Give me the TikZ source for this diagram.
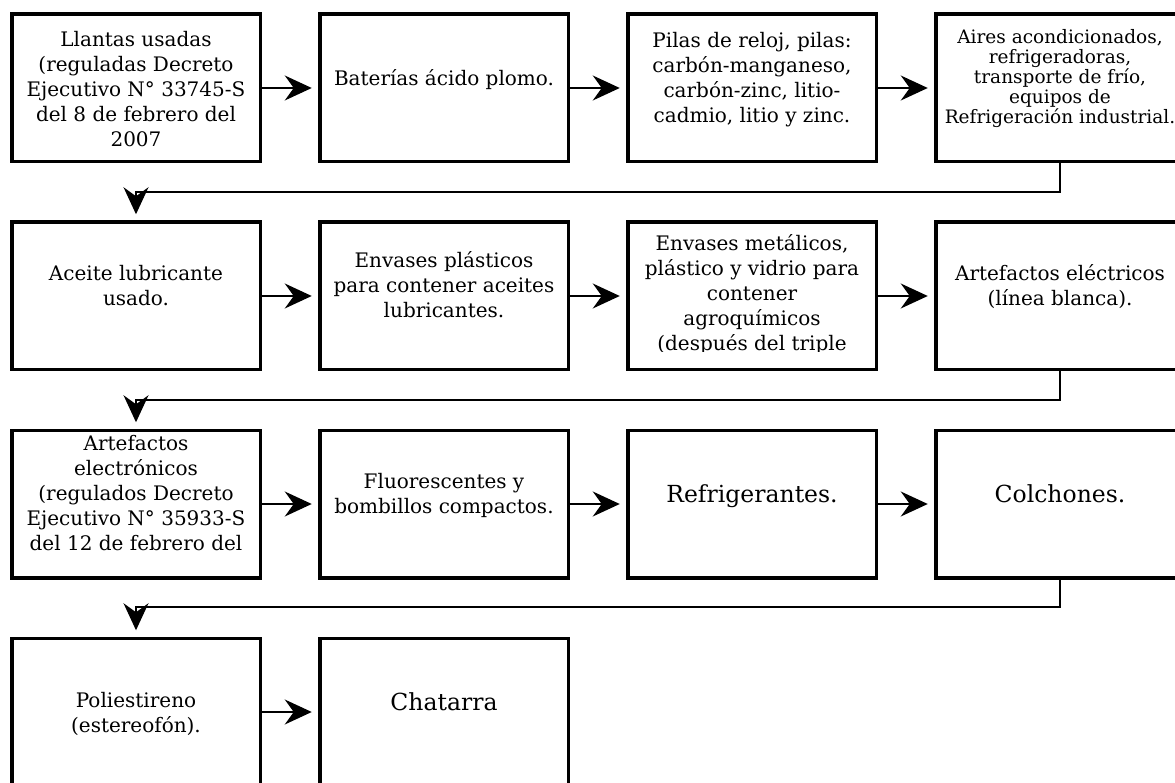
\documentclass[tikz,border=0pt]{standalone}
\usepackage{fontspec}
\setmainfont{DejaVu Serif}
\usetikzlibrary{arrows.meta}
\begin{document}
\begin{tikzpicture}[x=1pt,y=-1pt,
  box/.style={draw=black, fill=white, line width=3.5pt, minimum width=248.5pt, minimum height=147.5pt, inner sep=0pt, outer sep=0pt},
  txt/.style={align=center, inner sep=0pt, anchor=base, font=\fontsize{20}{25}\selectfont},
  smalltxt/.style={font=\fontsize{18.5}{20}\selectfont},
  bigtxt/.style={font=\fontsize{23.5}{28}\selectfont},
  conn/.style={draw=black, line width=1.3pt, -{Stealth[length=27pt,width=25pt,inset=9pt]}, shorten >=8pt},
]
\useasboundingbox[fill=white] (0,0) rectangle (1175,783);
% boxes
\node[box] (b1) at (136,88) {};
\node[box] (b2) at (444,88) {};
\node[box] (b3) at (752,88) {};
\node[box] (b4) at (1060,88) {};
\node[box] (b5) at (136,296) {};
\node[box] (b6) at (444,296) {};
\node[box] (b7) at (752,296) {};
\node[box] (b8) at (1060,296) {};
\node[box] (b9) at (136,504) {};
\node[box] (b10) at (444,504) {};
\node[box] (b11) at (752,504) {};
\node[box] (b12) at (1060,504) {};
\node[box] (b13) at (136,712) {};
\node[box] (b14) at (444,712) {};
% texts (anchored at the baseline of their last line)
\node[txt] (t1) at (136,147) {Llantas usadas\\(reguladas Decreto\\Ejecutivo N° 33745-S\\del 8 de febrero del\\2007};
\node[txt] (t2) at (444,86) {Baterías ácido plomo.};
\node[txt] (t3) at (752,123) {Pilas de reloj, pilas:\\carbón-manganeso,\\carbón-zinc, litio-\\cadmio, litio y zinc.};
\node[txt,smalltxt] (t4) at (1060,124) {Aires acondicionados,\\refrigeradoras,\\transporte de frío,\\equipos de\\Refrigeración industrial.};
\node[txt] (t5) at (136,306) {Aceite lubricante\\usado.};
\node[txt] (t6) at (444,318) {Envases plásticos\\para contener aceites\\lubricantes.};
\begin{scope}
\clip (627,224) rectangle (876,352);
\node[txt] (t7) at (752,351) {Envases metálicos,\\plástico y vidrio para\\contener\\agroquímicos\\(después del triple};
\end{scope}
\node[txt] (t8) at (1060,306) {Artefactos eléctricos\\(línea blanca).};
\node[txt] (t9) at (136,550) {Artefactos\\electrónicos\\(regulados Decreto\\Ejecutivo N° 35933-S\\del 12 de febrero del};
\node[txt] (t10) at (444,513) {Fluorescentes y\\bombillos compactos.};
\node[txt,bigtxt] (t11) at (752,502) {Refrigerantes.};
\node[txt,bigtxt] (t12) at (1060,502) {Colchones.};
\node[txt] (t13) at (136,732) {Poliestireno\\(estereofón).};
\node[txt,bigtxt] (t14) at (444,710) {Chatarra};
% bend points
\coordinate (k1) at (136,192);
\coordinate (k2) at (136,400);
\coordinate (k3) at (136,607);
% connectors
\draw[conn] (b1.east) -- (b2.west);
\draw[conn] (b2.east) -- (b3.west);
\draw[conn] (b3.east) -- (b4.west);
\draw[conn] (b4.south) |- (k1) -- (b5.north);
\draw[conn] (b5.east) -- (b6.west);
\draw[conn] (b6.east) -- (b7.west);
\draw[conn] (b7.east) -- (b8.west);
\draw[conn] (b8.south) |- (k2) -- (b9.north);
\draw[conn] (b9.east) -- (b10.west);
\draw[conn] (b10.east) -- (b11.west);
\draw[conn] (b11.east) -- (b12.west);
\draw[conn] (b12.south) |- (k3) -- (b13.north);
\draw[conn] (b13.east) -- (b14.west);
\end{tikzpicture}
\end{document}
